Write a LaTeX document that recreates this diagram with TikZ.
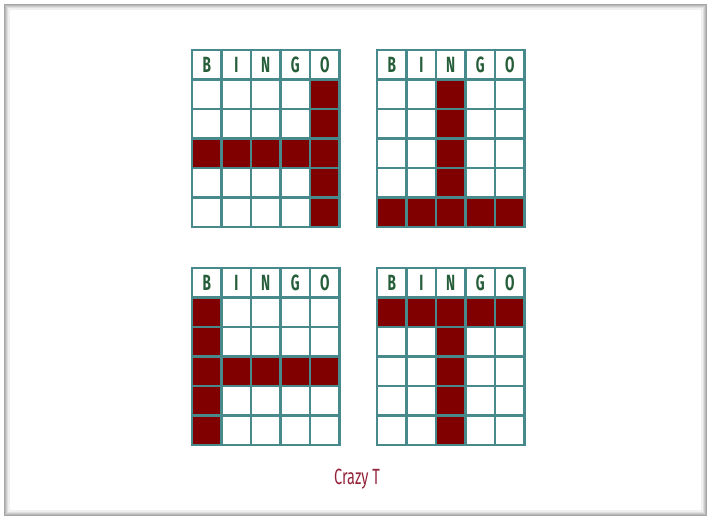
\documentclass[tikz,border=0pt]{standalone}
\usepackage{fontspec}
\newfontfamily\bingofont[FakeStretch=0.62]{Fira Sans}
\newfontfamily\titlefont[FakeStretch=0.66]{Fira Sans}
\definecolor{gridteal}{RGB}{72,138,140}
\definecolor{markred}{RGB}{128,0,0}
\definecolor{lettergreen}{RGB}{38,94,58}
\definecolor{titlered}{RGB}{148,36,58}
\tikzset{
    gridline/.style={draw=gridteal,line width=2.2pt,line cap=rect},
    head/.style={font=\bingofont\bfseries\fontsize{22}{22}\selectfont,text=lettergreen,inner sep=0pt},
    title/.style={font=\titlefont\fontsize{22}{22}\selectfont,text=titlered},
    frame/.style={line width=1.2pt},
}
% one card: name, top-left x, top-left y, marked cells col/row
\newcommand{\bingocard}[4]{%
  \begin{scope}[shift={(#2,#3)}]
    \foreach \c/\r in {#4}
      \fill[markred] ({(\c-1)*29.5},{\r*29.5}) rectangle ++(29.5,29.5);
    \foreach \c/\l in {1/B,2/I,3/N,4/G,5/O}
      \node[head] (#1-\l) at ({(\c-0.5)*29.5},15) {\l};
    \foreach \i in {0,...,5}
      \draw[gridline] ({\i*29.5},0) -- ++(0,177);
    \foreach \j in {0,...,6}
      \draw[gridline] (0,{\j*29.5}) -- ++(147.5,0);
  \end{scope}}

\begin{document}
\begin{tikzpicture}[x=1pt,y=-1pt]
\useasboundingbox (0,0) rectangle (710,519);
\fill[white] (0,0) rectangle (710,519);
% shaded frame
\foreach \k/\g in {0/70,1/55,2/40,3/25,4/12}
  \draw[frame,gray!\g] ({5+\k},{5+\k}) rectangle ({706-\k},{515-\k});

\bingocard{tl}{192}{50}{5/1,5/2,5/3,5/4,5/5,1/3,2/3,3/3,4/3}
\bingocard{tr}{377}{50}{3/1,3/2,3/3,3/4,1/5,2/5,3/5,4/5,5/5}
\bingocard{bl}{192}{268}{1/1,1/2,1/3,1/4,1/5,2/3,3/3,4/3,5/3}
\bingocard{br}{377}{268}{1/1,2/1,3/1,4/1,5/1,3/2,3/3,3/4,3/5}

\node[title] (caption) at (357,479) {Crazy T};
\end{tikzpicture}
\end{document}
